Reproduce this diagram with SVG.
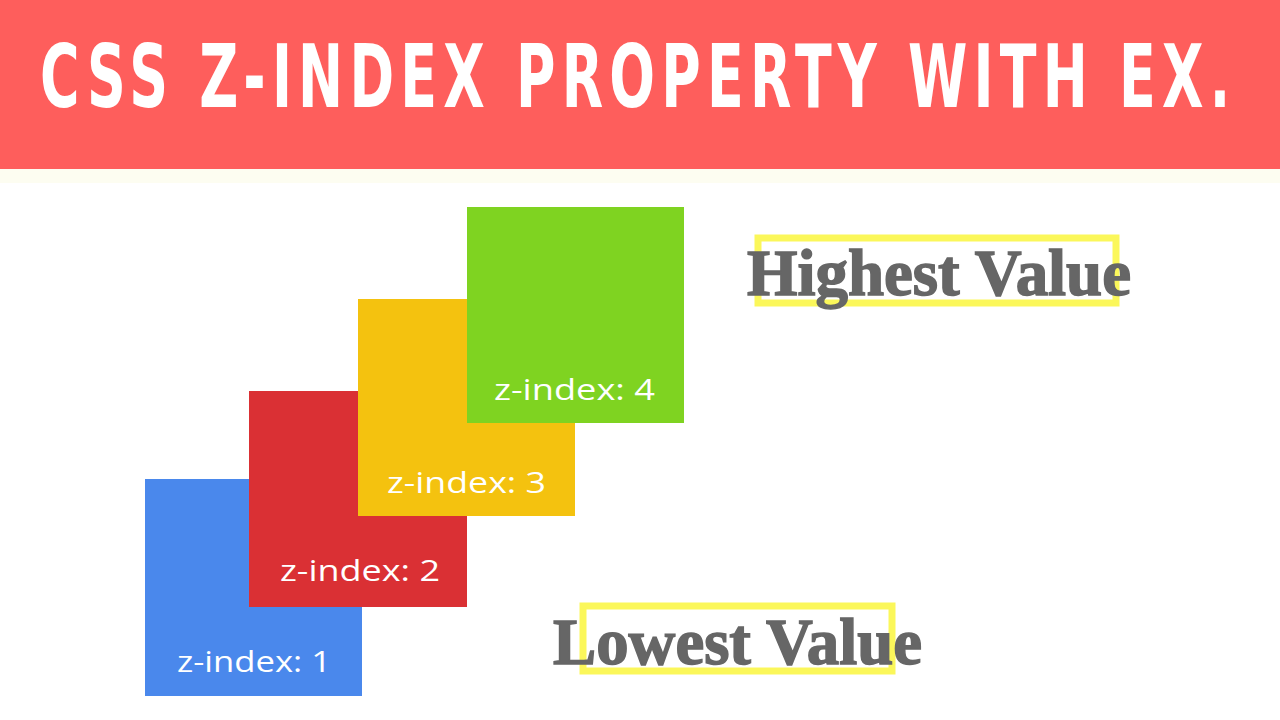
<svg xmlns="http://www.w3.org/2000/svg" width="1280" height="720" viewBox="0 0 1280 720">
<style>
.title{font-family:"DejaVu Sans Condensed","Liberation Sans",sans-serif;font-weight:bold;font-size:88px;fill:#ffffff}
.lbl{font-family:"Open Sans","Liberation Sans",sans-serif;font-size:29px;fill:#ffffff}
.big{font-family:"Liberation Serif","DejaVu Serif",serif;font-weight:bold;font-size:66px;fill:#666666;stroke:#666666;stroke-width:1.5}
.hl{fill:none;stroke:#fbf75a;stroke-width:7}
</style>
<rect x="0" y="0" width="1280" height="720" fill="#ffffff"/>
<rect x="0" y="0" width="1280" height="169" fill="#fe5e5c"/>
<rect x="0" y="169" width="1280" height="14" fill="#fdfdf1"/>
<g transform="scale(0.68,1)">
<text class="title" x="59" y="107" textLength="1750" lengthAdjust="spacing">CSS Z-INDEX PROPERTY WITH EX.</text>
</g>
<g id="box1"><rect x="145" y="479" width="217" height="217" fill="#4a88ec"/><text class="lbl" x="177" y="672" textLength="154" lengthAdjust="spacingAndGlyphs">z-index: 1</text></g>
<g id="box2"><rect x="249" y="391" width="218" height="216" fill="#da3034"/><text class="lbl" x="280" y="581" textLength="160" lengthAdjust="spacingAndGlyphs">z-index: 2</text></g>
<g id="box3"><rect x="358" y="299" width="217" height="217" fill="#f4c20f"/><text class="lbl" x="387" y="493" textLength="159" lengthAdjust="spacingAndGlyphs">z-index: 3</text></g>
<g id="box4"><rect x="467" y="207" width="217" height="216" fill="#7fd321"/><text class="lbl" x="494" y="400" textLength="161" lengthAdjust="spacingAndGlyphs">z-index: 4</text></g>
<g id="highest"><rect class="hl" x="758" y="238" width="358" height="65"/><text class="big" x="747" y="295" textLength="384" lengthAdjust="spacingAndGlyphs">Highest Value</text></g>
<g id="lowest"><rect class="hl" x="583" y="606" width="309" height="65"/><text class="big" x="553" y="664" textLength="369" lengthAdjust="spacingAndGlyphs">Lowest Value</text></g>
</svg>
